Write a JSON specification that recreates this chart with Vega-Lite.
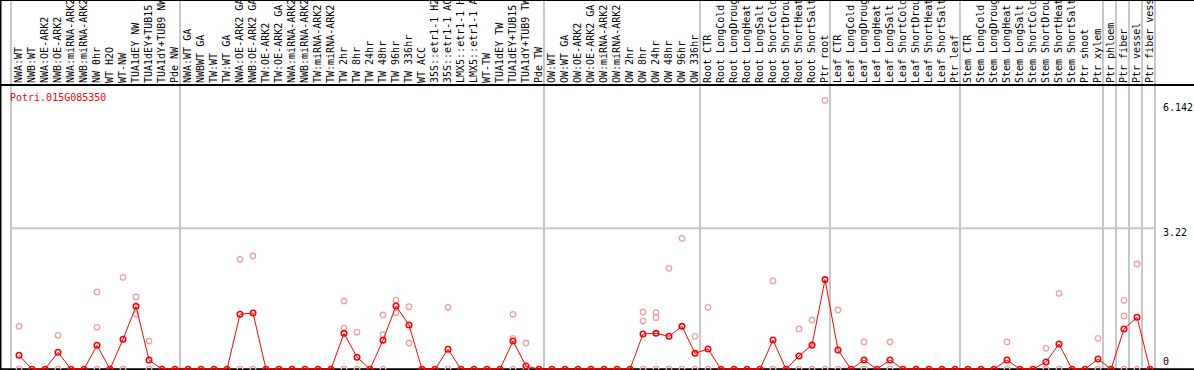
{
  "$schema": "https://vega.github.io/schema/vega-lite/v6.json",
  "width": 1194,
  "height": 370,
  "autosize": {"type": "none"},
  "padding": 0,
  "background": "white",
  "config": {"view": {"stroke": null}, "font": "DejaVu Sans Mono"},
  "title": {"text": "Potri.015G085350", "orient": "bottom", "anchor": "start", "frame": "group", "offset": -282, "baseline": "top", "color": "#ff0000", "font": "DejaVu Sans Mono", "fontSize": 10, "fontWeight": "normal", "dx": 10},
  "datasets": {
    "cols": [
      {"id": "c00", "label": "NWA:WT", "mean": 0.318},
      {"id": "c01", "label": "NWB:WT", "mean": 0},
      {"id": "c02", "label": "NWA:OE-ARK2", "mean": 0},
      {"id": "c03", "label": "NWB:OE-ARK2", "mean": 0.386},
      {"id": "c04", "label": "NWA:miRNA-ARK2", "mean": 0},
      {"id": "c05", "label": "NWB:miRNA-ARK2", "mean": 0},
      {"id": "c06", "label": "NW 0hr", "mean": 0.546},
      {"id": "c07", "label": "WT H2O", "mean": 0},
      {"id": "c08", "label": "WT-NW", "mean": 0.683},
      {"id": "c09", "label": "TUA1dEY NW", "mean": 1.437},
      {"id": "c10", "label": "TUA1dEY+TUB15 NW", "mean": 0.21},
      {"id": "c11", "label": "TUA1dY+TUB9 NW", "mean": 0},
      {"id": "c12", "label": "Pde NW", "mean": 0},
      {"id": "c13", "label": "NWA:WT GA", "mean": 0},
      {"id": "c14", "label": "NWBWT GA", "mean": 0},
      {"id": "c15", "label": "TW:WT", "mean": 0},
      {"id": "c16", "label": "TW:WT GA", "mean": 0},
      {"id": "c17", "label": "NWA:OE-ARK2 GA", "mean": 1.255},
      {"id": "c18", "label": "NWB:OE-ARK2 GA", "mean": 1.284},
      {"id": "c19", "label": "TW:OE-ARK2", "mean": 0},
      {"id": "c20", "label": "TW:OE-ARK2 GA", "mean": 0},
      {"id": "c21", "label": "NWA:miRNA-ARK2", "mean": 0},
      {"id": "c22", "label": "NWB:miRNA-ARK2", "mean": 0},
      {"id": "c23", "label": "TW:miRNA-ARK2", "mean": 0},
      {"id": "c24", "label": "TW:miRNA-ARK2", "mean": 0},
      {"id": "c25", "label": "TW 2hr", "mean": 0.82},
      {"id": "c26", "label": "TW 8hr", "mean": 0.274},
      {"id": "c27", "label": "TW 24hr", "mean": 0},
      {"id": "c28", "label": "TW 48hr", "mean": 0.663},
      {"id": "c29", "label": "TW 96hr", "mean": 1.444},
      {"id": "c30", "label": "TW 336hr", "mean": 1.01},
      {"id": "c31", "label": "WT ACC", "mean": 0},
      {"id": "c32", "label": "35S::etr1-1 H2O", "mean": 0},
      {"id": "c33", "label": "35S::etr1-1 ACC", "mean": 0.455},
      {"id": "c34", "label": "LMX5::etr1-1 H2O", "mean": 0},
      {"id": "c35", "label": "LMX5::etr1-1 ACC", "mean": 0},
      {"id": "c36", "label": "WT-TW", "mean": 0},
      {"id": "c37", "label": "TUA1dEY TW", "mean": 0},
      {"id": "c38", "label": "TUA1dEY+TUB15 TW", "mean": 0.644},
      {"id": "c39", "label": "TUA1dY+TUB9 TW", "mean": 0.073},
      {"id": "c40", "label": "Pde TW", "mean": 0},
      {"id": "c41", "label": "OW:WT", "mean": 0},
      {"id": "c42", "label": "OW:WT GA", "mean": 0},
      {"id": "c43", "label": "OW:OE-ARK2", "mean": 0},
      {"id": "c44", "label": "OW:OE-ARK2 GA", "mean": 0},
      {"id": "c45", "label": "OW:miRNA-ARK2", "mean": 0},
      {"id": "c46", "label": "OW:miRNA-ARK2", "mean": 0},
      {"id": "c47", "label": "OW 2hr", "mean": 0},
      {"id": "c48", "label": "OW 8hr", "mean": 0.804},
      {"id": "c49", "label": "OW 24hr", "mean": 0.82},
      {"id": "c50", "label": "OW 48hr", "mean": 0.752},
      {"id": "c51", "label": "OW 96hr", "mean": 0.98},
      {"id": "c52", "label": "OW 336hr", "mean": 0.363},
      {"id": "c53", "label": "Root CTR", "mean": 0.462},
      {"id": "c54", "label": "Root LongCold", "mean": 0},
      {"id": "c55", "label": "Root LongDrought", "mean": 0},
      {"id": "c56", "label": "Root LongHeat", "mean": 0},
      {"id": "c57", "label": "Root LongSalt", "mean": 0},
      {"id": "c58", "label": "Root ShortCold", "mean": 0.667},
      {"id": "c59", "label": "Root ShortDrought", "mean": 0},
      {"id": "c60", "label": "Root ShortHeat", "mean": 0.302},
      {"id": "c61", "label": "Root ShortSalt", "mean": 0.553},
      {"id": "c62", "label": "Ptr root", "mean": 2.047},
      {"id": "c63", "label": "Leaf CTR", "mean": 0.439},
      {"id": "c64", "label": "Leaf LongCold", "mean": 0},
      {"id": "c65", "label": "Leaf LongDrought", "mean": 0.21},
      {"id": "c66", "label": "Leaf LongHeat", "mean": 0},
      {"id": "c67", "label": "Leaf LongSalt", "mean": 0.21},
      {"id": "c68", "label": "Leaf ShortCold", "mean": 0},
      {"id": "c69", "label": "Leaf ShortDrought", "mean": 0},
      {"id": "c70", "label": "Leaf ShortHeat", "mean": 0},
      {"id": "c71", "label": "Leaf ShortSalt", "mean": 0},
      {"id": "c72", "label": "Ptr leaf", "mean": 0},
      {"id": "c73", "label": "Stem CTR", "mean": 0},
      {"id": "c74", "label": "Stem LongCold", "mean": 0},
      {"id": "c75", "label": "Stem LongDrought", "mean": 0},
      {"id": "c76", "label": "Stem LongHeat", "mean": 0.21},
      {"id": "c77", "label": "Stem LongSalt", "mean": 0},
      {"id": "c78", "label": "Stem ShortCold", "mean": 0},
      {"id": "c79", "label": "Stem ShortDrought", "mean": 0.165},
      {"id": "c80", "label": "Stem ShortHeat", "mean": 0.576},
      {"id": "c81", "label": "Stem ShortSalt", "mean": 0},
      {"id": "c82", "label": "Ptr shoot", "mean": 0},
      {"id": "c83", "label": "Ptr xylem", "mean": 0.233},
      {"id": "c84", "label": "Ptr phloem", "mean": 0},
      {"id": "c85", "label": "Ptr fiber", "mean": 0.919},
      {"id": "c86", "label": "Ptr vessel", "mean": 1.186},
      {"id": "c87", "label": "Ptr fiber vessel", "mean": 0}
    ],
    "reps": [
      {"id": "c00", "value": 0.98}, {"id": "c00", "value": 0},
      {"id": "c03", "value": 0.775}, {"id": "c03", "value": 0},
      {"id": "c06", "value": 1.764}, {"id": "c06", "value": 0.958}, {"id": "c06", "value": 0},
      {"id": "c08", "value": 2.1}, {"id": "c08", "value": 0},
      {"id": "c09", "value": 1.65}, {"id": "c09", "value": 1.255},
      {"id": "c10", "value": 0.644}, {"id": "c10", "value": 0},
      {"id": "c17", "value": 2.51}, {"id": "c17", "value": 0},
      {"id": "c18", "value": 2.587}, {"id": "c18", "value": 0},
      {"id": "c25", "value": 1.558}, {"id": "c25", "value": 0.94}, {"id": "c25", "value": 0},
      {"id": "c26", "value": 0.846}, {"id": "c26", "value": 0},
      {"id": "c28", "value": 1.239}, {"id": "c28", "value": 0.788}, {"id": "c28", "value": 0},
      {"id": "c29", "value": 1.581}, {"id": "c29", "value": 1.291},
      {"id": "c30", "value": 1.428}, {"id": "c30", "value": 0.599},
      {"id": "c33", "value": 1.415}, {"id": "c33", "value": 0},
      {"id": "c38", "value": 1.255}, {"id": "c38", "value": 0.706}, {"id": "c38", "value": 0},
      {"id": "c39", "value": 0.599}, {"id": "c39", "value": 0},
      {"id": "c48", "value": 1.307}, {"id": "c48", "value": 1.101}, {"id": "c48", "value": 0},
      {"id": "c49", "value": 1.291}, {"id": "c49", "value": 1.177}, {"id": "c49", "value": 0},
      {"id": "c50", "value": 2.306}, {"id": "c50", "value": 0},
      {"id": "c51", "value": 2.991}, {"id": "c51", "value": 0},
      {"id": "c52", "value": 0.752}, {"id": "c52", "value": 0},
      {"id": "c53", "value": 1.415}, {"id": "c53", "value": 0},
      {"id": "c58", "value": 2.016}, {"id": "c58", "value": 0},
      {"id": "c60", "value": 0.919}, {"id": "c60", "value": 0},
      {"id": "c61", "value": 1.124}, {"id": "c61", "value": 0.54}, {"id": "c61", "value": 0},
      {"id": "c62", "value": 6.142}, {"id": "c62", "value": 0},
      {"id": "c63", "value": 1.353}, {"id": "c63", "value": 0},
      {"id": "c65", "value": 0.622}, {"id": "c65", "value": 0},
      {"id": "c67", "value": 0.622}, {"id": "c67", "value": 0},
      {"id": "c76", "value": 0.622}, {"id": "c76", "value": 0},
      {"id": "c79", "value": 0.478}, {"id": "c79", "value": 0},
      {"id": "c80", "value": 1.734}, {"id": "c80", "value": 0},
      {"id": "c83", "value": 0.706}, {"id": "c83", "value": 0},
      {"id": "c85", "value": 1.575}, {"id": "c85", "value": 1.216}, {"id": "c85", "value": 0},
      {"id": "c86", "value": 2.404}, {"id": "c86", "value": 0}
    ],
    "groupStarts": [
      {"id": "c00"}, {"id": "c13"}, {"id": "c41"}, {"id": "c53"}, {"id": "c63"},
      {"id": "c73"}, {"id": "c84"}, {"id": "c85"}, {"id": "c86"}, {"id": "c87"}
    ],
    "groupEnds": [{"id": "c87"}],
    "yticks": [{"v": 0}, {"v": 3.22}, {"v": 6.142}],
    "one": [{}]
  },
  "layer": [
    {
      "data": {"name": "groupStarts"},
      "mark": {"type": "rule", "color": "#c8c8c8", "strokeWidth": 2, "xOffset": -1.5},
      "encoding": {
        "x": {"field": "id", "type": "nominal", "bandPosition": 0, "axis": null,
              "scale": {"type": "band", "range": [12.5, 1156.5], "paddingInner": 0, "paddingOuter": 0}}
      }
    },
    {
      "data": {"name": "groupEnds"},
      "mark": {"type": "rule", "color": "#c8c8c8", "strokeWidth": 2, "xOffset": -1.5},
      "encoding": {
        "x": {"field": "id", "type": "nominal", "bandPosition": 1, "axis": null}
      }
    },
    {
      "data": {"name": "one"},
      "mark": {"type": "rule", "color": "#c8c8c8", "strokeWidth": 2, "xOffset": -1.5, "x2Offset": 5},
      "encoding": {
        "x": {"datum": "c00", "type": "nominal", "bandPosition": 0, "axis": null},
        "x2": {"datum": "c87"},
        "y": {"datum": 3.22, "type": "quantitative", "axis": null}
      }
    },
    {
      "data": {"name": "one"},
      "mark": {"type": "rule", "color": "black", "strokeWidth": 2},
      "encoding": {
        "y": {"datum": 6.495, "type": "quantitative", "axis": null}
      }
    },
    {
      "data": {"name": "one"},
      "mark": {"type": "rule", "color": "black", "strokeWidth": 2},
      "encoding": {
        "y": {"datum": 0, "type": "quantitative", "axis": null}
      }
    },
    {
      "data": {"name": "one"},
      "mark": {"type": "rule", "color": "black", "strokeWidth": 2},
      "encoding": {
        "y": {"datum": 8.437, "type": "quantitative", "axis": null}
      }
    },
    {
      "data": {"name": "one"},
      "mark": {"type": "rule", "color": "black", "strokeWidth": 2, "xOffset": -12},
      "encoding": {
        "x": {"datum": "c00", "type": "nominal", "bandPosition": 0, "axis": null}
      }
    },
    {
      "data": {"name": "reps"},
      "mark": {"type": "point", "shape": "circle", "filled": false, "color": "#f0a0a0", "strokeWidth": 1.3, "size": 30, "opacity": 1},
      "encoding": {
        "x": {"field": "id", "type": "nominal", "axis": null},
        "y": {"field": "value", "type": "quantitative", "axis": null}
      }
    },
    {
      "data": {"name": "cols"},
      "mark": {"type": "line", "color": "#ff0000", "strokeWidth": 1},
      "encoding": {
        "x": {"field": "id", "type": "nominal", "axis": null},
        "y": {"field": "mean", "type": "quantitative", "axis": null}
      }
    },
    {
      "data": {"name": "cols"},
      "mark": {"type": "point", "shape": "circle", "filled": false, "color": "#ff0000", "strokeWidth": 1.6, "size": 30, "opacity": 1},
      "encoding": {
        "x": {"field": "id", "type": "nominal", "axis": null},
        "y": {"field": "mean", "type": "quantitative", "axis": null,
              "scale": {"domain": [0, 8.437], "range": [369.2, 0], "nice": false, "zero": false}}
      }
    },
    {
      "data": {"name": "cols"},
      "mark": {"type": "text", "angle": 270, "align": "left", "baseline": "middle", "dx": 2, "font": "DejaVu Sans Mono", "fontSize": 10, "color": "black"},
      "encoding": {
        "x": {"field": "id", "type": "nominal", "axis": null},
        "y": {"datum": 6.495, "type": "quantitative", "axis": null},
        "text": {"field": "label"}
      }
    },
    {
      "data": {"name": "yticks"},
      "transform": [{"filter": "datum.v > 5"}],
      "mark": {"type": "text", "align": "left", "baseline": "top", "xOffset": 6.5, "dy": 3, "font": "DejaVu Sans Mono", "fontSize": 10, "color": "black"},
      "encoding": {
        "x": {"datum": "c87", "type": "nominal", "bandPosition": 1, "axis": null},
        "y": {"field": "v", "type": "quantitative", "axis": null},
        "text": {"field": "v", "type": "nominal"}
      }
    },
    {
      "data": {"name": "yticks"},
      "transform": [{"filter": "datum.v > 0 && datum.v < 5"}],
      "mark": {"type": "text", "align": "left", "baseline": "top", "xOffset": 6.5, "font": "DejaVu Sans Mono", "fontSize": 10, "color": "black"},
      "encoding": {
        "x": {"datum": "c87", "type": "nominal", "bandPosition": 1, "axis": null},
        "y": {"field": "v", "type": "quantitative", "axis": null},
        "text": {"field": "v", "type": "nominal"}
      }
    },
    {
      "data": {"name": "yticks"},
      "transform": [{"filter": "datum.v == 0"}],
      "mark": {"type": "text", "align": "left", "baseline": "alphabetic", "xOffset": 6.5, "dy": -4, "font": "DejaVu Sans Mono", "fontSize": 10, "color": "black"},
      "encoding": {
        "x": {"datum": "c87", "type": "nominal", "bandPosition": 1, "axis": null},
        "y": {"field": "v", "type": "quantitative", "axis": null},
        "text": {"field": "v", "type": "nominal"}
      }
    }
  ]
}
